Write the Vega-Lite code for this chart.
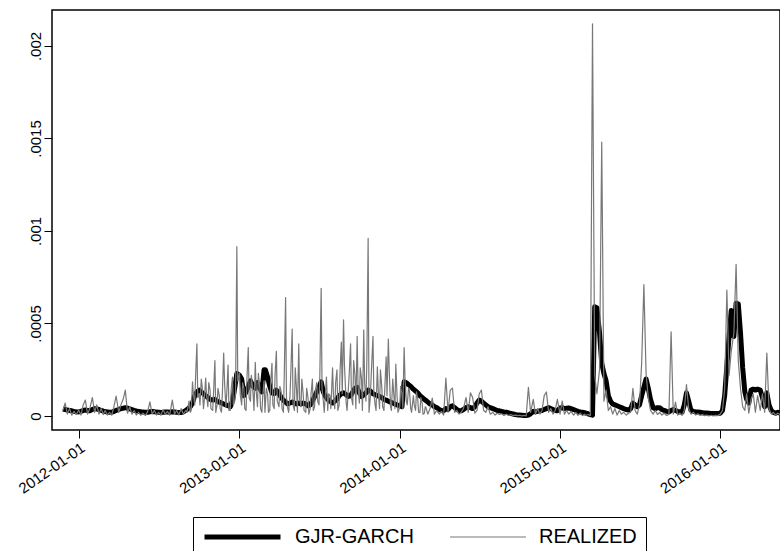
{
"$schema": "https://vega.github.io/schema/vega-lite/v6.json",
"width": 728,
"height": 420,
"autosize": {"type": "none"},
"padding": {"left": 52, "top": 10, "right": 0, "bottom": 121},
"background": "white",
"config": {"view": {"stroke": "black", "strokeWidth": 1.5}, "font": "Liberation Sans"},
"data": {"values": [
{"d":"2011-11-26","g":3.8e-5,"r":3e-5},
{"d":"2011-12-01","g":3.5e-5,"r":7e-5},
{"d":"2011-12-06","g":3.2e-5,"r":1e-5},
{"d":"2011-12-11","g":3e-5,"r":4e-5},
{"d":"2011-12-16","g":2.8e-5,"r":5e-6},
{"d":"2011-12-21","g":2.5e-5,"r":2.5e-5},
{"d":"2011-12-26","g":2.3e-5,"r":8e-6},
{"d":"2012-01-01","g":2.2e-5,"r":3e-5},
{"d":"2012-01-06","g":2.5e-5,"r":5e-6},
{"d":"2012-01-11","g":3e-5,"r":6e-5},
{"d":"2012-01-16","g":3.2e-5,"r":8.6e-5},
{"d":"2012-01-21","g":3e-5,"r":1e-5},
{"d":"2012-01-26","g":2.8e-5,"r":4e-5},
{"d":"2012-02-01","g":3.5e-5,"r":1e-4},
{"d":"2012-02-06","g":4e-5,"r":2e-5},
{"d":"2012-02-11","g":3.8e-5,"r":6e-5},
{"d":"2012-02-16","g":3.5e-5,"r":1e-5},
{"d":"2012-02-21","g":3e-5,"r":4e-5},
{"d":"2012-02-26","g":2.6e-5,"r":8e-6},
{"d":"2012-03-01","g":2.4e-5,"r":3e-5},
{"d":"2012-03-06","g":2.2e-5,"r":5e-6},
{"d":"2012-03-11","g":2e-5,"r":2e-5},
{"d":"2012-03-16","g":2e-5,"r":4e-6},
{"d":"2012-03-21","g":2.5e-5,"r":5e-5},
{"d":"2012-03-26","g":3e-5,"r":1.08e-4},
{"d":"2012-04-01","g":3.5e-5,"r":2e-5},
{"d":"2012-04-06","g":4e-5,"r":6e-5},
{"d":"2012-04-11","g":4.2e-5,"r":9e-5},
{"d":"2012-04-16","g":4.5e-5,"r":1.4e-4},
{"d":"2012-04-21","g":4.2e-5,"r":1.5e-5},
{"d":"2012-04-26","g":3.8e-5,"r":5e-5},
{"d":"2012-05-01","g":3.4e-5,"r":1e-5},
{"d":"2012-05-06","g":3e-5,"r":3e-5},
{"d":"2012-05-11","g":2.7e-5,"r":5e-6},
{"d":"2012-05-16","g":2.5e-5,"r":2e-5},
{"d":"2012-05-21","g":2.3e-5,"r":4e-6},
{"d":"2012-05-26","g":2.1e-5,"r":1.5e-5},
{"d":"2012-06-01","g":2e-5,"r":3e-6},
{"d":"2012-06-06","g":2e-5,"r":2.5e-5},
{"d":"2012-06-11","g":2.3e-5,"r":7.6e-5},
{"d":"2012-06-16","g":2.5e-5,"r":1e-5},
{"d":"2012-06-21","g":2.3e-5,"r":3e-5},
{"d":"2012-06-26","g":2.1e-5,"r":5e-6},
{"d":"2012-07-01","g":2e-5,"r":2e-5},
{"d":"2012-07-06","g":1.9e-5,"r":4e-6},
{"d":"2012-07-11","g":2e-5,"r":3.5e-5},
{"d":"2012-07-16","g":2.2e-5,"r":1e-5},
{"d":"2012-07-21","g":2.2e-5,"r":2.5e-5},
{"d":"2012-07-26","g":2e-5,"r":5e-6},
{"d":"2012-08-01","g":2.3e-5,"r":8.6e-5},
{"d":"2012-08-06","g":2.2e-5,"r":1e-5},
{"d":"2012-08-11","g":2e-5,"r":3e-5},
{"d":"2012-08-16","g":1.9e-5,"r":5e-6},
{"d":"2012-08-21","g":1.9e-5,"r":4e-5},
{"d":"2012-08-26","g":2.2e-5,"r":1e-5},
{"d":"2012-09-01","g":3e-5,"r":3e-5},
{"d":"2012-09-06","g":4e-5,"r":5e-5},
{"d":"2012-09-11","g":5e-5,"r":2e-5},
{"d":"2012-09-16","g":7e-5,"r":1.84e-4},
{"d":"2012-09-21","g":1.1e-4,"r":6e-5},
{"d":"2012-09-26","g":1.3e-4,"r":3.9e-4},
{"d":"2012-10-01","g":1.4e-4,"r":1.2e-4},
{"d":"2012-10-06","g":1.3e-4,"r":2e-4},
{"d":"2012-10-11","g":1.2e-4,"r":4e-5},
{"d":"2012-10-16","g":1.1e-4,"r":2.05e-4},
{"d":"2012-10-21","g":1e-4,"r":5e-5},
{"d":"2012-10-26","g":9e-5,"r":1.4e-4},
{"d":"2012-11-01","g":8.6e-5,"r":3e-5},
{"d":"2012-11-06","g":9e-5,"r":3e-4},
{"d":"2012-11-11","g":8e-5,"r":6e-5},
{"d":"2012-11-16","g":7.5e-5,"r":1.1e-4},
{"d":"2012-11-21","g":7e-5,"r":2e-5},
{"d":"2012-11-26","g":6.5e-5,"r":3.4e-4},
{"d":"2012-12-01","g":6e-5,"r":5e-5},
{"d":"2012-12-06","g":5.5e-5,"r":2.75e-4},
{"d":"2012-12-11","g":5e-5,"r":3e-5},
{"d":"2012-12-16","g":8e-5,"r":2.1e-4},
{"d":"2012-12-21","g":1.5e-4,"r":8e-5},
{"d":"2012-12-26","g":2.3e-4,"r":9.15e-4},
{"d":"2013-01-01","g":2.2e-4,"r":2.3e-4},
{"d":"2013-01-06","g":2e-4,"r":6e-5},
{"d":"2013-01-11","g":1.1e-4,"r":1.5e-4},
{"d":"2013-01-16","g":1.3e-4,"r":3e-5},
{"d":"2013-01-21","g":1.6e-4,"r":3.7e-4},
{"d":"2013-01-26","g":1.9e-4,"r":8e-5},
{"d":"2013-02-01","g":1.6e-4,"r":1.2e-4},
{"d":"2013-02-06","g":1.5e-4,"r":2.9e-4},
{"d":"2013-02-11","g":1.8e-4,"r":5e-5},
{"d":"2013-02-16","g":1.5e-4,"r":1.6e-4},
{"d":"2013-02-21","g":1.3e-4,"r":2e-5},
{"d":"2013-02-26","g":2.5e-4,"r":1.9e-4},
{"d":"2013-03-01","g":2.5e-4,"r":6e-5},
{"d":"2013-03-06","g":2.1e-4,"r":1.2e-4},
{"d":"2013-03-11","g":1.6e-4,"r":3e-5},
{"d":"2013-03-16","g":1.25e-4,"r":2.85e-4},
{"d":"2013-03-21","g":1.2e-4,"r":4e-5},
{"d":"2013-03-26","g":1.4e-4,"r":3.5e-4},
{"d":"2013-04-01","g":1.2e-4,"r":5e-5},
{"d":"2013-04-06","g":1e-4,"r":1.3e-4},
{"d":"2013-04-11","g":8.5e-5,"r":2e-5},
{"d":"2013-04-16","g":7.5e-5,"r":6.4e-4},
{"d":"2013-04-21","g":6.5e-5,"r":4e-5},
{"d":"2013-04-26","g":7e-5,"r":1.1e-4},
{"d":"2013-05-01","g":7.5e-5,"r":4.7e-4},
{"d":"2013-05-06","g":7e-5,"r":3e-5},
{"d":"2013-05-11","g":6.5e-5,"r":1.4e-4},
{"d":"2013-05-16","g":7e-5,"r":3.9e-4},
{"d":"2013-05-21","g":6.5e-5,"r":5e-5},
{"d":"2013-05-26","g":7e-5,"r":1.2e-4},
{"d":"2013-06-01","g":6.5e-5,"r":2e-5},
{"d":"2013-06-06","g":5.5e-5,"r":1e-4},
{"d":"2013-06-11","g":6e-5,"r":4e-5},
{"d":"2013-06-16","g":8e-5,"r":2e-4},
{"d":"2013-06-21","g":1.05e-4,"r":5e-5},
{"d":"2013-06-26","g":1.3e-4,"r":1.8e-4},
{"d":"2013-07-01","g":1.55e-4,"r":6e-5},
{"d":"2013-07-06","g":1.85e-4,"r":6.9e-4},
{"d":"2013-07-11","g":1.3e-4,"r":8e-5},
{"d":"2013-07-16","g":1.05e-4,"r":1.3e-4},
{"d":"2013-07-21","g":9e-5,"r":3e-5},
{"d":"2013-07-26","g":8e-5,"r":1.1e-4},
{"d":"2013-08-01","g":7e-5,"r":2.6e-4},
{"d":"2013-08-06","g":8e-5,"r":4e-5},
{"d":"2013-08-11","g":9e-5,"r":2.5e-4},
{"d":"2013-08-16","g":1.1e-4,"r":6e-5},
{"d":"2013-08-21","g":1.2e-4,"r":4e-4},
{"d":"2013-08-26","g":1.25e-4,"r":5.2e-4},
{"d":"2013-09-01","g":1.15e-4,"r":7e-5},
{"d":"2013-09-06","g":1.05e-4,"r":1.5e-4},
{"d":"2013-09-11","g":1.1e-4,"r":3.9e-4},
{"d":"2013-09-16","g":1.3e-4,"r":6e-5},
{"d":"2013-09-21","g":1.5e-4,"r":2.2e-4},
{"d":"2013-09-26","g":1.55e-4,"r":4.3e-4},
{"d":"2013-10-01","g":1.25e-4,"r":7e-5},
{"d":"2013-10-06","g":1.05e-4,"r":2e-4},
{"d":"2013-10-11","g":1.15e-4,"r":4.65e-4},
{"d":"2013-10-16","g":1.25e-4,"r":8e-5},
{"d":"2013-10-21","g":1.4e-4,"r":9.6e-4},
{"d":"2013-10-26","g":1.35e-4,"r":1e-4},
{"d":"2013-11-01","g":1.2e-4,"r":4.3e-4},
{"d":"2013-11-06","g":1.15e-4,"r":6e-5},
{"d":"2013-11-11","g":1.1e-4,"r":2.65e-4},
{"d":"2013-11-16","g":1.05e-4,"r":4e-5},
{"d":"2013-11-21","g":1e-4,"r":1.6e-4},
{"d":"2013-11-26","g":9e-5,"r":3e-5},
{"d":"2013-12-01","g":8.6e-5,"r":3.2e-4},
{"d":"2013-12-06","g":8e-5,"r":4.15e-4},
{"d":"2013-12-11","g":7.5e-5,"r":5e-5},
{"d":"2013-12-16","g":7e-5,"r":2e-4},
{"d":"2013-12-21","g":6.5e-5,"r":4e-5},
{"d":"2013-12-26","g":6e-5,"r":1e-4},
{"d":"2014-01-01","g":5.5e-5,"r":5e-5},
{"d":"2014-01-06","g":5e-5,"r":1.2e-4},
{"d":"2014-01-11","g":1.85e-4,"r":3.7e-4},
{"d":"2014-01-16","g":1.8e-4,"r":8e-5},
{"d":"2014-01-21","g":1.7e-4,"r":1.5e-4},
{"d":"2014-01-26","g":1.6e-4,"r":4e-5},
{"d":"2014-02-01","g":1.45e-4,"r":1.1e-4},
{"d":"2014-02-06","g":1.35e-4,"r":3e-5},
{"d":"2014-02-11","g":1.25e-4,"r":9e-5},
{"d":"2014-02-16","g":1.1e-4,"r":2e-5},
{"d":"2014-02-21","g":1e-4,"r":7e-5},
{"d":"2014-02-26","g":9e-5,"r":1.5e-5},
{"d":"2014-03-01","g":8.5e-5,"r":5e-5},
{"d":"2014-03-06","g":7.5e-5,"r":1e-5},
{"d":"2014-03-11","g":6.5e-5,"r":4e-5},
{"d":"2014-03-16","g":6e-5,"r":9.7e-5},
{"d":"2014-03-21","g":5e-5,"r":1e-5},
{"d":"2014-03-26","g":4.5e-5,"r":3e-5},
{"d":"2014-04-01","g":3.5e-5,"r":1e-5},
{"d":"2014-04-06","g":3e-5,"r":2.5e-5},
{"d":"2014-04-11","g":2.8e-5,"r":5e-6},
{"d":"2014-04-16","g":4e-5,"r":2.05e-4},
{"d":"2014-04-21","g":3.5e-5,"r":2e-5},
{"d":"2014-04-26","g":5e-5,"r":1.4e-4},
{"d":"2014-05-01","g":5.5e-5,"r":1.5e-4},
{"d":"2014-05-06","g":4.5e-5,"r":2e-5},
{"d":"2014-05-11","g":3.5e-5,"r":3e-5},
{"d":"2014-05-16","g":3e-5,"r":1e-5},
{"d":"2014-05-21","g":2.8e-5,"r":2e-5},
{"d":"2014-05-26","g":3.5e-5,"r":4e-5},
{"d":"2014-06-01","g":4.5e-5,"r":1e-4},
{"d":"2014-06-06","g":5e-5,"r":2e-5},
{"d":"2014-06-11","g":4.5e-5,"r":1.25e-4},
{"d":"2014-06-16","g":4e-5,"r":1e-4},
{"d":"2014-06-21","g":5e-5,"r":1.5e-5},
{"d":"2014-06-26","g":7e-5,"r":3e-5},
{"d":"2014-07-01","g":8.6e-5,"r":1.2e-4},
{"d":"2014-07-06","g":8e-5,"r":1.4e-4},
{"d":"2014-07-11","g":7e-5,"r":3e-5},
{"d":"2014-07-16","g":6e-5,"r":2e-5},
{"d":"2014-07-21","g":5e-5,"r":5e-5},
{"d":"2014-07-26","g":4.5e-5,"r":1e-5},
{"d":"2014-08-01","g":4e-5,"r":2e-5},
{"d":"2014-08-06","g":3.5e-5,"r":5e-6},
{"d":"2014-08-11","g":3e-5,"r":1.5e-5},
{"d":"2014-08-16","g":2.8e-5,"r":8e-6},
{"d":"2014-08-21","g":2.5e-5,"r":1.2e-5},
{"d":"2014-08-26","g":2.2e-5,"r":3e-6},
{"d":"2014-09-01","g":2e-5,"r":1e-5},
{"d":"2014-09-06","g":1.7e-5,"r":3e-6},
{"d":"2014-09-11","g":1.4e-5,"r":8e-6},
{"d":"2014-09-16","g":1.1e-5,"r":2e-6},
{"d":"2014-09-21","g":8e-6,"r":5e-6},
{"d":"2014-09-26","g":6e-6,"r":2e-6},
{"d":"2014-10-01","g":5e-6,"r":4e-6},
{"d":"2014-10-06","g":4e-6,"r":1e-6},
{"d":"2014-10-11","g":3e-6,"r":3e-6},
{"d":"2014-10-16","g":3e-6,"r":1e-6},
{"d":"2014-10-21","g":5e-6,"r":1.55e-4},
{"d":"2014-10-26","g":1.2e-5,"r":2e-5},
{"d":"2014-11-01","g":2.5e-5,"r":9e-5},
{"d":"2014-11-06","g":2.2e-5,"r":1e-5},
{"d":"2014-11-11","g":2.5e-5,"r":4e-5},
{"d":"2014-11-16","g":2.8e-5,"r":1e-5},
{"d":"2014-11-21","g":3e-5,"r":3e-5},
{"d":"2014-11-26","g":3.5e-5,"r":1.1e-4},
{"d":"2014-12-01","g":4e-5,"r":1.3e-4},
{"d":"2014-12-06","g":4.5e-5,"r":2e-5},
{"d":"2014-12-11","g":4e-5,"r":4e-5},
{"d":"2014-12-16","g":3.5e-5,"r":1e-5},
{"d":"2014-12-21","g":3e-5,"r":3e-5},
{"d":"2014-12-26","g":2.8e-5,"r":9e-5},
{"d":"2015-01-01","g":4.3e-5,"r":1e-5},
{"d":"2015-01-06","g":4.5e-5,"r":8e-5},
{"d":"2015-01-11","g":4e-5,"r":1e-5},
{"d":"2015-01-16","g":4.2e-5,"r":3e-5},
{"d":"2015-01-21","g":4.3e-5,"r":1e-5},
{"d":"2015-01-26","g":4e-5,"r":2.5e-5},
{"d":"2015-02-01","g":3.5e-5,"r":5e-6},
{"d":"2015-02-06","g":3e-5,"r":2e-5},
{"d":"2015-02-11","g":2.5e-5,"r":3e-6},
{"d":"2015-02-16","g":2.2e-5,"r":1.5e-5},
{"d":"2015-02-21","g":2e-5,"r":2e-6},
{"d":"2015-02-26","g":1.8e-5,"r":1e-5},
{"d":"2015-03-01","g":1.5e-5,"r":3e-6},
{"d":"2015-03-06","g":1.2e-5,"r":8e-6},
{"d":"2015-03-11","g":8e-6,"r":2e-6},
{"d":"2015-03-16","g":4e-6,"r":2.12e-3},
{"d":"2015-03-21","g":5.9e-4,"r":2.2e-4},
{"d":"2015-03-26","g":5.85e-4,"r":1.2e-4},
{"d":"2015-04-01","g":4.5e-4,"r":2.5e-4},
{"d":"2015-04-06","g":2.85e-4,"r":1.48e-3},
{"d":"2015-04-11","g":2.3e-4,"r":8e-5},
{"d":"2015-04-16","g":1.9e-4,"r":1.4e-4},
{"d":"2015-04-21","g":1.1e-4,"r":3e-5},
{"d":"2015-04-26","g":8e-5,"r":5e-5},
{"d":"2015-05-01","g":6.5e-5,"r":1e-5},
{"d":"2015-05-06","g":6e-5,"r":4e-5},
{"d":"2015-05-11","g":5.5e-5,"r":5e-6},
{"d":"2015-05-16","g":5e-5,"r":3e-5},
{"d":"2015-05-21","g":4.5e-5,"r":1e-5},
{"d":"2015-05-26","g":4e-5,"r":2e-5},
{"d":"2015-06-01","g":3.5e-5,"r":5e-6},
{"d":"2015-06-06","g":3.2e-5,"r":1.5e-5},
{"d":"2015-06-11","g":4e-5,"r":2e-5},
{"d":"2015-06-16","g":7e-5,"r":1.5e-4},
{"d":"2015-06-21","g":6e-5,"r":3e-5},
{"d":"2015-06-26","g":5e-5,"r":1e-5},
{"d":"2015-07-01","g":6e-5,"r":6e-5},
{"d":"2015-07-06","g":1.1e-4,"r":2.9e-4},
{"d":"2015-07-11","g":1.55e-4,"r":7.1e-4},
{"d":"2015-07-16","g":2e-4,"r":2.3e-4},
{"d":"2015-07-21","g":1.5e-4,"r":1e-4},
{"d":"2015-07-26","g":9e-5,"r":3e-5},
{"d":"2015-08-01","g":4.5e-5,"r":1e-5},
{"d":"2015-08-06","g":4e-5,"r":3e-5},
{"d":"2015-08-11","g":4.5e-5,"r":8e-6},
{"d":"2015-08-16","g":4.5e-5,"r":2e-5},
{"d":"2015-08-21","g":3.5e-5,"r":5e-6},
{"d":"2015-08-26","g":3e-5,"r":1.5e-5},
{"d":"2015-09-01","g":2.5e-5,"r":3e-6},
{"d":"2015-09-06","g":2.2e-5,"r":1e-5},
{"d":"2015-09-11","g":3e-5,"r":4.55e-4},
{"d":"2015-09-16","g":3.5e-5,"r":1e-5},
{"d":"2015-09-21","g":3e-5,"r":7.5e-5},
{"d":"2015-09-26","g":2.5e-5,"r":5e-6},
{"d":"2015-10-01","g":2.2e-5,"r":1.5e-5},
{"d":"2015-10-06","g":2e-5,"r":3e-6},
{"d":"2015-10-11","g":6e-5,"r":3e-5},
{"d":"2015-10-16","g":1.25e-4,"r":1.7e-4},
{"d":"2015-10-21","g":8e-5,"r":4e-5},
{"d":"2015-10-26","g":3.2e-5,"r":1e-5},
{"d":"2015-11-01","g":2.5e-5,"r":2e-5},
{"d":"2015-11-06","g":2.2e-5,"r":5e-6},
{"d":"2015-11-11","g":2.2e-5,"r":1.2e-5},
{"d":"2015-11-16","g":2e-5,"r":3e-6},
{"d":"2015-11-21","g":1.8e-5,"r":8e-6},
{"d":"2015-11-26","g":1.6e-5,"r":2e-6},
{"d":"2015-12-01","g":1.6e-5,"r":5e-6},
{"d":"2015-12-06","g":1.5e-5,"r":1e-6},
{"d":"2015-12-11","g":1.4e-5,"r":4e-6},
{"d":"2015-12-16","g":1.4e-5,"r":1e-6},
{"d":"2015-12-21","g":1.3e-5,"r":3e-6},
{"d":"2015-12-26","g":1.3e-5,"r":2e-6},
{"d":"2016-01-01","g":1.5e-5,"r":1e-5},
{"d":"2016-01-06","g":3e-5,"r":3e-5},
{"d":"2016-01-11","g":1.1e-4,"r":1.5e-4},
{"d":"2016-01-16","g":2.7e-4,"r":6.8e-4},
{"d":"2016-01-21","g":4.3e-4,"r":2.2e-4},
{"d":"2016-01-26","g":5.7e-4,"r":3.5e-4},
{"d":"2016-02-01","g":4.3e-4,"r":4.5e-4},
{"d":"2016-02-06","g":6.1e-4,"r":8.2e-4},
{"d":"2016-02-11","g":6.05e-4,"r":3e-4},
{"d":"2016-02-16","g":4.5e-4,"r":1.5e-4},
{"d":"2016-02-21","g":2.6e-4,"r":5e-5},
{"d":"2016-02-26","g":1.3e-4,"r":3e-5},
{"d":"2016-03-01","g":9e-5,"r":1.2e-4},
{"d":"2016-03-06","g":7e-5,"r":1.5e-5},
{"d":"2016-03-11","g":1.4e-4,"r":9e-5},
{"d":"2016-03-16","g":1.45e-4,"r":1.2e-4},
{"d":"2016-03-21","g":1.4e-4,"r":2e-5},
{"d":"2016-03-26","g":1.45e-4,"r":1.1e-4},
{"d":"2016-04-01","g":1.4e-4,"r":3e-5},
{"d":"2016-04-06","g":1e-4,"r":1.2e-4},
{"d":"2016-04-11","g":5e-5,"r":2e-5},
{"d":"2016-04-16","g":1.25e-4,"r":3.4e-4},
{"d":"2016-04-21","g":6e-5,"r":4e-5},
{"d":"2016-04-26","g":3e-5,"r":1e-5},
{"d":"2016-05-01","g":2e-5,"r":2e-5},
{"d":"2016-05-06","g":1.5e-5,"r":5e-6},
{"d":"2016-05-11","g":2e-5,"r":1.5e-5},
{"d":"2016-05-16","g":1.5e-5,"r":8e-6},
{"d":"2012-09-03","r":2e-5},{"d":"2012-09-08","r":8e-5},{"d":"2012-09-13","r":3e-5},{"d":"2012-09-18","r":1.2e-4},{"d":"2012-09-23","r":2.1e-4},{"d":"2012-09-28","r":1e-4},
{"d":"2012-10-03","r":6e-5},{"d":"2012-10-08","r":1.6e-4},{"d":"2012-10-13","r":9e-5},{"d":"2012-10-18","r":1.1e-4},{"d":"2012-10-23","r":1.8e-4},{"d":"2012-10-28","r":4e-5},
{"d":"2012-11-03","r":1.3e-4},{"d":"2012-11-08","r":2e-5},{"d":"2012-11-13","r":1.5e-4},{"d":"2012-11-18","r":4e-5},{"d":"2012-11-23","r":1.2e-4},{"d":"2012-11-28","r":1.8e-4},
{"d":"2012-12-03","r":1.2e-4},{"d":"2012-12-08","r":3e-5},{"d":"2012-12-13","r":1.4e-4},{"d":"2012-12-18","r":6e-5},{"d":"2012-12-23","r":1.2e-4},{"d":"2012-12-28","r":1.9e-4},
{"d":"2013-01-03","r":1.1e-4},{"d":"2013-01-08","r":1.8e-4},{"d":"2013-01-13","r":4e-5},{"d":"2013-01-18","r":2e-4},{"d":"2013-01-23","r":1e-4},{"d":"2013-01-28","r":2.2e-4},
{"d":"2013-02-03","r":3e-5},{"d":"2013-02-08","r":1.4e-4},{"d":"2013-02-13","r":2.3e-4},{"d":"2013-02-18","r":4e-5},{"d":"2013-02-23","r":1.1e-4},{"d":"2013-02-28","r":2e-5},
{"d":"2013-03-03","r":1.5e-4},{"d":"2013-03-08","r":2e-5},{"d":"2013-03-13","r":1.8e-4},{"d":"2013-03-18","r":6e-5},{"d":"2013-03-23","r":2.2e-4},{"d":"2013-03-28","r":8e-5},
{"d":"2013-04-03","r":1.6e-4},{"d":"2013-04-08","r":4e-5},{"d":"2013-04-13","r":2.2e-4},{"d":"2013-04-18","r":1e-4},{"d":"2013-04-23","r":2e-5},{"d":"2013-04-28","r":2.4e-4},
{"d":"2013-05-03","r":6e-5},{"d":"2013-05-08","r":2.6e-4},{"d":"2013-05-13","r":2e-5},{"d":"2013-05-18","r":9e-5},{"d":"2013-05-23","r":2e-4},{"d":"2013-05-28","r":3e-5},
{"d":"2013-06-03","r":1.5e-4},{"d":"2013-06-08","r":1e-5},{"d":"2013-06-13","r":1.2e-4},{"d":"2013-06-18","r":3e-5},{"d":"2013-06-23","r":1.4e-4},{"d":"2013-06-28","r":8e-5},
{"d":"2013-07-03","r":2.2e-4},{"d":"2013-07-08","r":1.5e-4},{"d":"2013-07-13","r":2e-5},{"d":"2013-07-18","r":2.1e-4},{"d":"2013-07-23","r":1.2e-4},{"d":"2013-07-28","r":4e-5},
{"d":"2013-08-03","r":1.1e-4},{"d":"2013-08-08","r":1.8e-4},{"d":"2013-08-13","r":3e-5},{"d":"2013-08-18","r":2.4e-4},{"d":"2013-08-23","r":1.2e-4},{"d":"2013-08-28","r":2.8e-4},
{"d":"2013-09-03","r":3e-5},{"d":"2013-09-08","r":2.3e-4},{"d":"2013-09-13","r":1e-4},{"d":"2013-09-18","r":3e-4},{"d":"2013-09-23","r":4e-5},{"d":"2013-09-28","r":1.6e-4},
{"d":"2013-10-03","r":2.6e-4},{"d":"2013-10-08","r":3e-5},{"d":"2013-10-13","r":1.8e-4},{"d":"2013-10-18","r":2.9e-4},{"d":"2013-10-23","r":2e-5},{"d":"2013-10-28","r":2.2e-4},
{"d":"2013-11-03","r":1.2e-4},{"d":"2013-11-08","r":3e-5},{"d":"2013-11-13","r":1.4e-4},{"d":"2013-11-18","r":2.5e-4},{"d":"2013-11-23","r":5e-5},{"d":"2013-11-28","r":1.5e-4},
{"d":"2013-12-03","r":1.1e-4},{"d":"2013-12-08","r":2.5e-4},{"d":"2013-12-13","r":3e-5},{"d":"2013-12-18","r":1.3e-4},{"d":"2013-12-23","r":2.8e-4},{"d":"2013-12-28","r":2e-5},
{"d":"2014-01-03","r":1.6e-4},{"d":"2014-01-08","r":4e-5},{"d":"2014-01-13","r":2e-4},{"d":"2014-01-18","r":6e-5},{"d":"2014-01-23","r":1.4e-4},{"d":"2014-01-28","r":2e-5},
{"d":"2014-02-03","r":6e-5},{"d":"2014-02-08","r":1.3e-4},{"d":"2014-02-13","r":2e-5},{"d":"2014-02-18","r":1e-4},{"d":"2014-02-23","r":1e-5},{"d":"2014-02-28","r":5e-5}
]},
"transform": [{"fold": ["g", "r"], "as": ["k", "v"]}, {"filter": "isValid(datum.v)"}],
"mark": {"type": "line", "clip": true, "strokeJoin": "round"},
"encoding": {
  "x": {"field": "d", "type": "temporal",
    "scale": {"type": "utc", "domain": [{"year": 2011, "month": 11, "date": 1, "utc": true}, {"year": 2016, "month": 5, "date": 16, "utc": true}]},
    "axis": {"values": [{"year": 2012, "month": 1, "date": 1, "utc": true}, {"year": 2013, "month": 1, "date": 1, "utc": true}, {"year": 2014, "month": 1, "date": 1, "utc": true}, {"year": 2015, "month": 1, "date": 1, "utc": true}, {"year": 2016, "month": 1, "date": 1, "utc": true}],
      "labelExpr": "utcFormat(datum.value, '%Y-%m-%d')", "labelAngle": -35, "labelAlign": "right", "labelBaseline": "top",
      "labelFontSize": 15, "labelFont": "Liberation Sans", "labelColor": "black", "labelPadding": 2, "tickSize": 8, "tickColor": "black", "tickWidth": 1,
      "domain": false, "grid": false, "title": null, "labelOverlap": false, "labelFlush": false, "labelBound": false}},
  "y": {"field": "v", "type": "quantitative",
    "scale": {"domain": [-0.0000757, 0.0021944], "nice": false, "zero": false},
    "axis": {"values": [0, 0.0005, 0.001, 0.0015, 0.002],
      "labelExpr": "datum.value == 0 ? '0' : substring(format(datum.value, '.4~f'), 1)",
      "labelAngle": -90, "labelAlign": "center", "labelBaseline": "bottom", "labelFontSize": 15, "labelFont": "Liberation Sans", "labelColor": "black",
      "labelPadding": 1, "tickSize": 8, "tickColor": "black", "tickWidth": 1, "domain": false, "grid": false, "title": null}},
  "color": {"field": "k", "type": "nominal",
    "scale": {"domain": ["g", "r"], "range": ["#000000", "#787878"]},
    "legend": {"orient": "none", "legendX": 141, "legendY": 507, "direction": "horizontal", "title": null,
      "symbolType": "stroke", "symbolSize": 5776, "clipHeight": 22, "labelFontSize": 20, "labelFont": "Liberation Sans", "labelColor": "black",
      "labelOffset": 12, "columnPadding": 35, "padding": 9, "fillColor": "white", "strokeColor": "black",
      "labelExpr": "datum.label == 'g' ? 'GJR-GARCH' : 'REALIZED'"}},
  "strokeWidth": {"field": "k", "type": "nominal",
    "scale": {"type": "ordinal", "domain": ["g", "r"], "range": [5, 1.2]},
    "legend": {"orient": "none", "legendX": 141, "legendY": 507, "direction": "horizontal", "title": null,
      "symbolType": "stroke", "symbolSize": 5776, "clipHeight": 22, "labelFontSize": 20, "labelFont": "Liberation Sans", "labelColor": "black",
      "labelOffset": 12, "columnPadding": 35, "padding": 9, "fillColor": "white", "strokeColor": "black",
      "labelExpr": "datum.label == 'g' ? 'GJR-GARCH' : 'REALIZED'"}}
}
}
